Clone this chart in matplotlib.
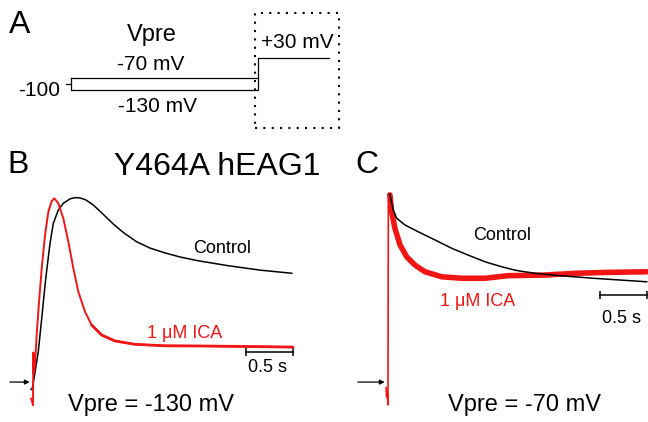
"""Y464A hEAG1 currents: voltage protocol (A) and ICA effect at two prepulses (B, C)."""

import matplotlib
matplotlib.use("Agg")
import matplotlib.pyplot as plt
from matplotlib.patches import Rectangle

plt.rcParams["font.family"] = ["Liberation Sans", "DejaVu Sans"]

# ---------------------------------------------------------------------------
# Data
# ---------------------------------------------------------------------------

# Panel A: voltage protocol (mV, s)
holding_mv = -100
prepulse_mv = [-70, -130]
test_mv = 30
prepulse_dur = 5.0
test_dur = 1.9

# Panel B: Vpre = -130 mV, current normalised to control peak
b_ctrl_t = [-0.02, -0.01, 0.014, 0.056, 0.093, 0.128, 0.146, 0.181, 0.216,
            0.269, 0.322, 0.394, 0.447, 0.500, 0.560, 0.641, 0.748, 0.854,
            0.961, 1.103, 1.245, 1.404, 1.564, 1.741, 2.061, 2.415, 2.752]
b_ctrl_i = [-0.04, -0.04, 0.029, 0.164, 0.346, 0.524, 0.605, 0.750, 0.858,
            0.930, 0.966, 0.990, 0.997, 0.995, 0.985, 0.957, 0.906, 0.854,
            0.808, 0.758, 0.724, 0.698, 0.676, 0.657, 0.630, 0.605, 0.588]
b_ica_t = [-0.02, -0.012, 0.0, 0.003, 0.008, 0.021, 0.039, 0.064, 0.093,
           0.128, 0.163, 0.199, 0.227, 0.269, 0.322, 0.376, 0.429, 0.482,
           0.553, 0.624, 0.731, 0.872, 1.085, 1.404, 1.777, 2.309, 2.766]
b_ica_i = [-0.09, -0.10, -0.125, 0.16, 0.05, 0.092, 0.254, 0.434, 0.616,
           0.795, 0.920, 0.978, 0.993, 0.966, 0.885, 0.758, 0.615, 0.488,
           0.380, 0.308, 0.254, 0.222, 0.204, 0.196, 0.195, 0.192, 0.189]

# Panel C: Vpre = -70 mV
c_ctrl_t = [0.014, 0.021, 0.056, 0.093, 0.181, 0.322, 0.500, 0.678, 0.854,
            1.032, 1.210, 1.351, 1.404, 1.564, 1.830, 2.184, 2.752]
c_ctrl_i = [1.015, 1.011, 0.930, 0.885, 0.849, 0.812, 0.768, 0.723, 0.686,
            0.650, 0.623, 0.605, 0.600, 0.588, 0.575, 0.561, 0.542]
c_ica_t = [-0.02, -0.015, -0.01, 0.0, 0.004, 0.021, 0.039, 0.074, 0.128,
           0.199, 0.287, 0.394, 0.571, 0.784, 1.032, 1.280, 1.652, 2.007,
           2.362, 2.752]
c_ica_i = [-0.03, -0.08, -0.05, -0.124, 1.02, 1.011, 0.921, 0.831, 0.741,
           0.677, 0.632, 0.596, 0.569, 0.561, 0.561, 0.575, 0.578, 0.588,
           0.593, 0.596]

scale_bar_s = 0.5

# ---------------------------------------------------------------------------
# Layout helpers (pixel positions in a 648x422 canvas)
# ---------------------------------------------------------------------------
W, H = 648, 422
RED = "#f21515"


def rect(l, t, r, b):
    return [l / W, 1 - b / H, (r - l) / W, (b - t) / H]


def label(x, y, s, size, color="black"):
    fig.text(x / W, 1 - y / H, s, fontsize=size, color=color,
             ha="center", va="baseline")


fig = plt.figure(figsize=(W / 100, H / 100), dpi=100)

# ── Panel A: protocol ───────────────────────────────────────────────────────
ax = fig.add_axes(rect(0, 0, 360, 140))
ax.set_axis_off()
ax.set_xlim(-1.898, 7.727)
ax.set_ylim(-380, 320)
end_t = prepulse_dur + test_dur
lo, hi = min(prepulse_mv), max(prepulse_mv)
ax.plot([0, prepulse_dur], [hi, hi], color="black", lw=0.9)
ax.plot([0, 0, prepulse_dur, prepulse_dur, end_t],
        [hi, lo, lo, test_mv, test_mv], color="black", lw=0.9)
ax.plot([-0.13, 0], [holding_mv, holding_mv], color="black", lw=0.9)
ax.add_patch(Rectangle((prepulse_dur - 0.08, -320), 2.246, 575, fill=False,
                       ls=(0, (1, 3)), lw=1.5, ec="black"))

label(20, 33, "A", 23)
label(152, 41, "Vpre", 17)
label(151, 70, f"{prepulse_mv[0]} mV", 15)
label(157, 111.5, f"{prepulse_mv[1]} mV", 15)
label(297, 48, f"+{test_mv} mV", 15)
label(39, 96.5, f"{holding_mv}", 15)


def trace_panel(box, xlim, t_c, i_c, t_r, i_r, red_lw, noisy_from, noisy_lw,
                arrow_from, bar_pos, ctrl_on_top):
    ax = fig.add_axes(rect(*box))
    ax.set_axis_off()
    ax.set_xlim(*xlim)
    ax.set_ylim(-0.151, 1.065)
    zc, zr = (3, 2) if ctrl_on_top else (2, 3)
    ax.plot(t_c, i_c, color="black", lw=1.1, zorder=zc,
            solid_joinstyle="round")
    ax.plot(t_r, i_r, color=RED, lw=red_lw, zorder=zr,
            solid_joinstyle="round")
    tn = [t for t in t_r if t >= noisy_from]
    iN = [i for t, i in zip(t_r, i_r) if t >= noisy_from]
    ax.plot(tn, iN, color=RED, lw=noisy_lw, zorder=zr,
            solid_joinstyle="round", solid_capstyle="round")
    # zero-current arrow
    ax.annotate("", xy=(-0.035, 0), xytext=(arrow_from, 0),
                arrowprops=dict(arrowstyle="-|>", color="black", lw=0.9,
                                mutation_scale=7, shrinkA=0, shrinkB=0))
    bx, by = bar_pos
    ax.plot([bx, bx + scale_bar_s], [by, by], color="black", lw=1.1,
            marker="|", markersize=6, markeredgewidth=1.1)
    return ax


trace_panel((5, 185, 300, 410), (-0.298, 2.840), b_ctrl_t, b_ctrl_i,
            b_ica_t, b_ica_i, 1.4, 0.6, 2.0, -0.245, (2.266, 0.162), False)
trace_panel((350, 185, 648, 410), (-0.404, 2.766), c_ctrl_t, c_ctrl_i,
            c_ica_t, c_ica_i, 1.2, 0.02, 4.0, -0.32, (2.255, 0.470), True)

label(18, 173, "B", 23)
label(217, 175, "Y464A hEAG1", 23)
label(222, 253, "Control", 13)
label(185, 338, "1 \u03bcM ICA", 13, RED)
label(267.5, 372.5, "0.5 s", 13)
label(151, 410.5, "Vpre = -130 mV", 17)

label(367, 173, "C", 23)
label(502.5, 240, "Control", 13)
label(477.5, 306.5, "1 \u03bcM ICA", 13, RED)
label(621, 323, "0.5 s", 13)
label(525, 410.5, "Vpre = -70 mV", 17)

fig.savefig("out.png", dpi=100)
